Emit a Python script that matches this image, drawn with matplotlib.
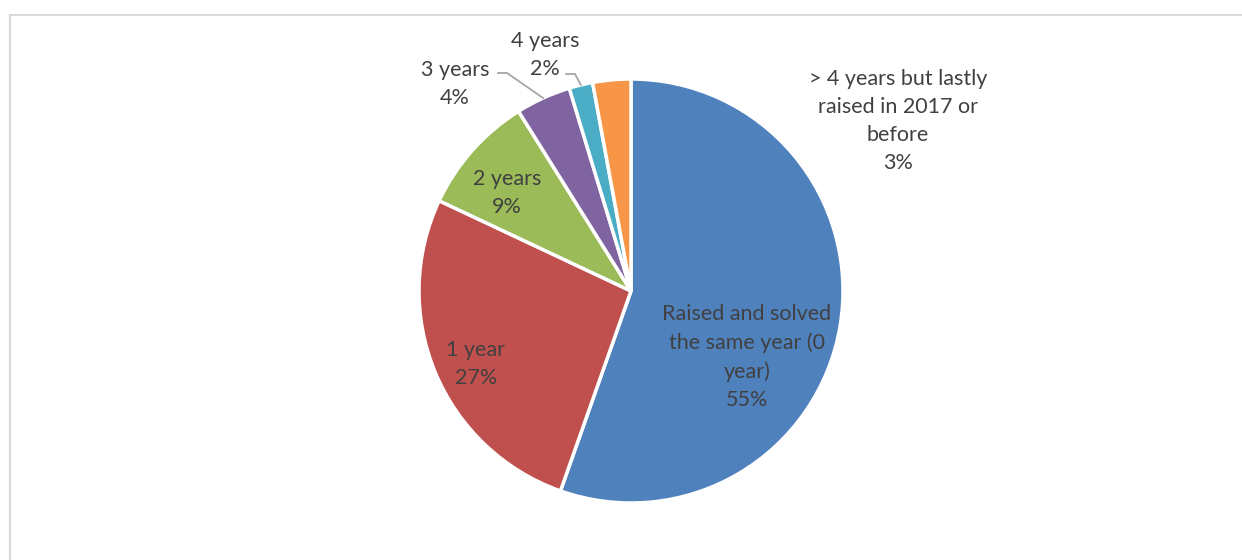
import numpy as np
import matplotlib
matplotlib.use('Agg')
import matplotlib.pyplot as plt
from matplotlib.patches import Rectangle

# data (shares in %)
labels = ['Raised and solved\nthe same year (0\nyear)', '1 year', '2 years', '3 years', '4 years',
          '> 4 years but lastly\nraised in 2017 or\nbefore']
values = [55.4, 26.6, 9.1, 4.2, 1.8, 2.9]
colors = ['#4F81BD', '#C0504D', '#9BBB59', '#8064A2', '#4BACC6', '#F79646']

W, H = 1242, 560
fig = plt.figure(figsize=(W / 100, H / 100), dpi=100)
ax = fig.add_axes([0, 0, 1, 1])

def Y(y):   # pixel row (from top) -> data y
    return H - y

cx, cy, r = 631, Y(291), 212
wedges, _ = ax.pie(values, colors=colors, startangle=90, counterclock=False,
                   center=(cx, cy), radius=r,
                   wedgeprops=dict(edgecolor='white', linewidth=2.5))

# pixel coords for the whole figure (pie() resets limits, so set after it)
ax.set_xlim(0, W)
ax.set_ylim(0, H)
ax.set_aspect('auto')
ax.axis('off')

# chart border (light grey, runs off right/bottom edge)
ax.add_patch(Rectangle((10, -10), W, Y(14.5) + 10, fill=False, edgecolor='#d9d9d9', lw=1.5))

txt = dict(fontsize=15.5, color='#404040', ha='center', va='center',
           family=['Lato', 'DejaVu Sans'], linespacing=1.5)

pct = ['%d%%' % round(v) for v in values]
ax.text(747, Y(357), labels[0] + '\n' + pct[0], **txt)
ax.text(476, Y(364), labels[1] + '\n' + pct[1], **txt)
ax.text(507, Y(193), labels[2] + '\n' + pct[2], **txt)
ax.text(455, Y(84), labels[3] + '\n' + pct[3], **txt)
ax.text(545, Y(55), labels[4] + '\n' + pct[4], **txt)
ax.text(898, Y(121), labels[5] + '\n' + pct[5], **txt)

# leader lines for small slices, ending at wedge mid-angle on the rim
def rim(i):
    w = wedges[i]
    a = np.deg2rad((w.theta1 + w.theta2) / 2)
    return cx + r * np.cos(a), cy + r * np.sin(a)

x3, y3 = rim(3)
ax.plot([498, 507, x3], [Y(73), Y(73), y3], color='#a6a6a6', lw=1.3)
x4, y4 = rim(4)
ax.plot([566, 575, x4], [Y(74), Y(74), y4], color='#a6a6a6', lw=1.3)

fig.savefig('out.png', dpi=100)
